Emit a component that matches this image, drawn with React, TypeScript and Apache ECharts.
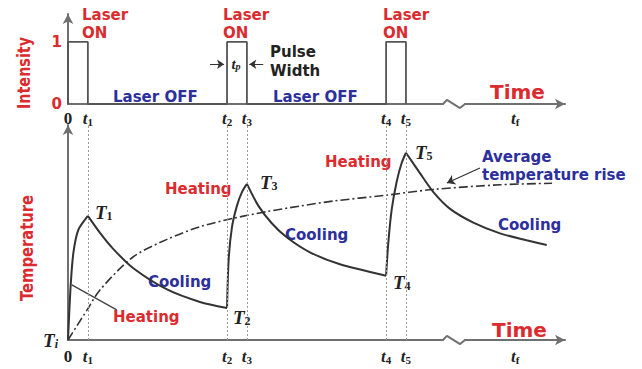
import React, { useEffect, useRef } from 'react';
import * as echarts from 'echarts';

// time ticks
const tickValues = [0, 1, 8, 9, 16, 17, 22.5];
const tickNames = ['0', 't1', 't2', 't3', 't4', 't5', 'tf'];
const pulseTimes = [1, 8, 9, 16, 17];

// laser intensity (0 / 1)
const pulse = [[0, 0], [0, 1], [1, 1], [1, 0], [8, 0], [8, 1], [9, 1], [9, 0], [16, 0], [16, 1], [17, 1], [17, 0]];

// temperature segments
const heat1 = [[0, 0], [0.13, 24.7], [0.27, 40.5], [0.52, 51.2], [1, 57.7]];
const cool1 = [[1, 57.7], [1.61, 49.8], [2.26, 42.5], [3.27, 33.5], [4.98, 23.5], [6.64, 17.7], [8, 14.9]];
const heat2 = [[8, 14.9], [8.08, 37.2], [8.25, 52.6], [8.5, 62.5], [8.75, 68.8], [9, 72.6]];
const cool2 = [[9, 72.6], [9.57, 62.5], [10.25, 54.3], [11.0, 47.8], [12.17, 40.8], [13.68, 35.2], [16, 29.9]];
const heat3 = [[16, 29.9], [16.11, 45], [16.28, 60.5], [16.53, 73.5], [16.78, 82.2], [17, 87.1]];
const cool3 = [[17, 87.1], [17.71, 77.5], [18.38, 68.8], [19.22, 61.0], [20.39, 54.6], [21.73, 49.6], [23.07, 46.4], [24.08, 44.2]];
const average = [[0, 0], [0.96, 14], [1.61, 23.3], [3.27, 38.6], [4.98, 46.8], [6.64, 52.7], [8.32, 56.6], [9.99, 59.7], [11.67, 62.3], [13.33, 64.6], [15.95, 67.3], [18.36, 70.0], [21.73, 72.2], [24.35, 72.9]];
const heatingLeader = [[0.19, 25.6], [2.45, 14]];

// axis breaks
const breakCover = [[18.9, 0], [19.93, 0]];
const topBreak = [[18.86, 0], [19.06, 0.065], [19.72, -0.065], [19.97, 0]];
const bottomBreak = [[18.86, 0], [19.06, 1.9], [19.72, -1.9], [19.97, 0]];

const RED = '#dc2b2f';
const BLUE = '#2c2f9c';
const DARK = '#333';
const AXIS = '#707070';
const SANS = "'DejaVu Sans'";
const SERIF = "'Liberation Serif'";

function tickLabel(v: number) {
  const i = tickValues.findIndex((x) => Math.abs(x - v) < 1e-6);
  if (i < 0) return '';
  const n = tickNames[i];
  if (n === '0') return '{z|0}';
  return `{t|t}{s|${n.slice(1)}}`;
}

const tickRich = {
  z: { fontFamily: SERIF, fontWeight: 'bold', fontSize: 17, color: '#222', lineHeight: 18 },
  t: { fontFamily: SERIF, fontStyle: 'italic', fontWeight: 'bold', fontSize: 17, color: '#222', lineHeight: 18 },
  s: { fontFamily: SERIF, fontWeight: 'bold', fontSize: 11, color: '#222', lineHeight: 11, verticalAlign: 'bottom' },
};

const tRich = {
  a: { fontFamily: SERIF, fontStyle: 'italic', fontWeight: 'bold', fontSize: 19, fill: '#222', lineHeight: 20 },
  b: { fontFamily: SERIF, fontWeight: 'bold', fontSize: 12, fill: '#222', lineHeight: 12, verticalAlign: 'bottom' },
};

function txt(text: string, x: number, y: number, fill: string, size = 15, extra: any = {}) {
  return {
    type: 'text',
    x,
    y,
    silent: true,
    ...extra,
    style: {
      text,
      fill,
      font: `bold ${size}px ${SANS}`,
      textAlign: 'left',
      textVerticalAlign: 'middle',
      ...(extra.style || {}),
    },
  };
}

function tLabel(sub: string, x: number, y: number) {
  return {
    type: 'text',
    x,
    y,
    silent: true,
    style: { text: `{a|T}{b|${sub}}`, rich: tRich, textAlign: 'left', textVerticalAlign: 'middle' },
  };
}

const lineBase = { type: 'line', symbol: 'none', silent: true, clip: false };

export default function App() {
  const ref = useRef<HTMLDivElement>(null);
  useEffect(() => {
    document.body.style.margin = '0';
    const chart = echarts.init(ref.current!, null, { renderer: 'svg' });
    const axisLine = { show: true, symbol: ['none', 'arrow'], symbolSize: [8, 10], lineStyle: { color: AXIS, width: 2 } };
    const curve = (data: number[][]) => ({
      ...lineBase,
      xAxisIndex: 1,
      yAxisIndex: 1,
      data,
      smooth: 0.25,
      lineStyle: { color: DARK, width: 2 },
    });
    chart.setOption({
      animation: false,
      backgroundColor: '#fff',
      grid: [
        { left: 68, right: 77, top: 14, bottom: 265 },
        { left: 68, right: 77, top: 125, bottom: 29 },
      ],
      xAxis: [0, 1].map((g) => ({
        type: 'value',
        gridIndex: g,
        min: 0,
        max: 25,
        axisLine,
        axisTick: { show: false },
        splitLine: { show: false },
        axisLabel: { customValues: tickValues, formatter: tickLabel, rich: tickRich, margin: g === 0 ? 5 : 7 },
      })),
      yAxis: [
        {
          type: 'value',
          gridIndex: 0,
          min: 0,
          max: 1.45,
          axisLine,
          axisTick: { show: false },
          splitLine: { show: false },
          axisLabel: {
            customValues: [0, 1],
            formatter: (v: number) => String(v),
            color: RED,
            fontFamily: SANS,
            fontWeight: 'bold',
            fontSize: 15,
            margin: 6,
          },
        },
        {
          type: 'value',
          gridIndex: 1,
          min: 0,
          max: 100,
          axisLine,
          axisTick: { show: false },
          splitLine: { show: false },
          axisLabel: {
            customValues: [0],
            formatter: () => '{a|T}{b|i}',
            rich: {
              a: { fontFamily: SERIF, fontStyle: 'italic', fontWeight: 'bold', fontSize: 19, color: '#222', lineHeight: 20 },
              b: { fontFamily: SERIF, fontStyle: 'italic', fontWeight: 'bold', fontSize: 12, color: '#222', lineHeight: 12, verticalAlign: 'bottom' },
            },
            margin: 10,
          },
        },
      ],
      series: [
        {
          ...lineBase,
          xAxisIndex: 0,
          yAxisIndex: 0,
          data: pulse,
          lineStyle: { color: '#555', width: 1.8 },
          markLine: {
            silent: true,
            symbol: ['none', 'arrow'],
            symbolSize: 7,
            label: { show: false },
            lineStyle: { color: DARK, width: 1, type: 'solid' },
            data: [
              [{ coord: [7.14, 0.64] }, { coord: [7.85, 0.64] }],
              [{ coord: [9.82, 0.64] }, { coord: [9.12, 0.64] }],
            ],
          },
        },
        { ...lineBase, xAxisIndex: 0, yAxisIndex: 0, data: breakCover, lineStyle: { color: '#fff', width: 6 } },
        { ...lineBase, xAxisIndex: 0, yAxisIndex: 0, data: topBreak, lineStyle: { color: AXIS, width: 2 } },
        {
          ...lineBase,
          xAxisIndex: 1,
          yAxisIndex: 1,
          data: breakCover,
          lineStyle: { color: '#fff', width: 6 },
          markLine: {
            silent: true,
            symbol: 'none',
            label: { show: false },
            lineStyle: { color: '#999', width: 1, type: [2, 2] },
            data: pulseTimes.map((t) => ({ xAxis: t })),
          },
        },
        { ...lineBase, xAxisIndex: 1, yAxisIndex: 1, data: bottomBreak, lineStyle: { color: AXIS, width: 2 } },
        curve(heat1),
        curve(cool1),
        curve(heat2),
        curve(cool2),
        curve(heat3),
        curve(cool3),
        {
          ...lineBase,
          xAxisIndex: 1,
          yAxisIndex: 1,
          data: average,
          smooth: 0.3,
          lineStyle: { color: DARK, width: 1.6, type: [9, 3, 2, 3] },
          markLine: {
            silent: true,
            symbol: ['none', 'arrow'],
            symbolSize: 8,
            label: { show: false },
            lineStyle: { color: DARK, width: 1.2, type: 'solid' },
            data: [[{ coord: [20.72, 80] }, { coord: [19.06, 73] }]],
          },
        },
        { ...lineBase, xAxisIndex: 1, yAxisIndex: 1, data: heatingLeader, lineStyle: { color: '#444', width: 1.4 } },
      ],
      graphic: [
        {
          type: 'text',
          x: 24,
          y: 73,
          rotation: Math.PI / 2,
          scaleX: 0.8,
          silent: true,
          style: { text: 'Intensity', fill: RED, font: `bold 18px ${SANS}`, textAlign: 'center', textVerticalAlign: 'middle' },
        },
        {
          type: 'text',
          x: 27,
          y: 248,
          rotation: Math.PI / 2,
          scaleX: 0.82,
          silent: true,
          style: { text: 'Temperature', fill: RED, font: `bold 18px ${SANS}`, textAlign: 'center', textVerticalAlign: 'middle' },
        },
        txt('Laser', 82, 15, RED),
        txt('ON', 82, 33, RED),
        txt('Laser', 223, 15, RED),
        txt('ON', 223, 33, RED),
        txt('Laser', 383, 15, RED),
        txt('ON', 383, 33, RED),
        txt('Pulse', 270, 52, '#222'),
        txt('Width', 270, 71, '#222'),
        {
          type: 'text',
          x: 236,
          y: 64,
          silent: true,
          style: {
            text: '{a|t}{b|p}',
            rich: {
              a: { fontFamily: SERIF, fontStyle: 'italic', fontWeight: 'bold', fontSize: 15, fill: '#222', lineHeight: 15 },
              b: { fontFamily: SERIF, fontStyle: 'italic', fontWeight: 'bold', fontSize: 10, fill: '#222', lineHeight: 10, verticalAlign: 'bottom' },
            },
            textAlign: 'center',
            textVerticalAlign: 'middle',
          },
        },
        txt('Laser OFF', 113, 97, BLUE),
        txt('Laser OFF', 273, 97, BLUE),
        txt('Time', 490, 92, RED, 20),
        tLabel('1', 95, 212),
        tLabel('2', 233, 317),
        tLabel('3', 260, 182),
        tLabel('4', 393, 282),
        tLabel('5', 415, 152),
        txt('Heating', 165, 189, RED),
        txt('Heating', 325, 162, RED),
        txt('Heating', 113, 317, RED),
        txt('Cooling', 148, 282, BLUE),
        txt('Cooling', 285, 235, BLUE),
        txt('Cooling', 498, 225, BLUE),
        txt('Average', 482, 157, BLUE),
        txt('temperature rise', 482, 175, BLUE),
        txt('Time', 492, 330, RED, 20),
      ],
    });
    return () => chart.dispose();
  }, []);
  return <div ref={ref} style={{ width: 642, height: 369 }} />;
}
